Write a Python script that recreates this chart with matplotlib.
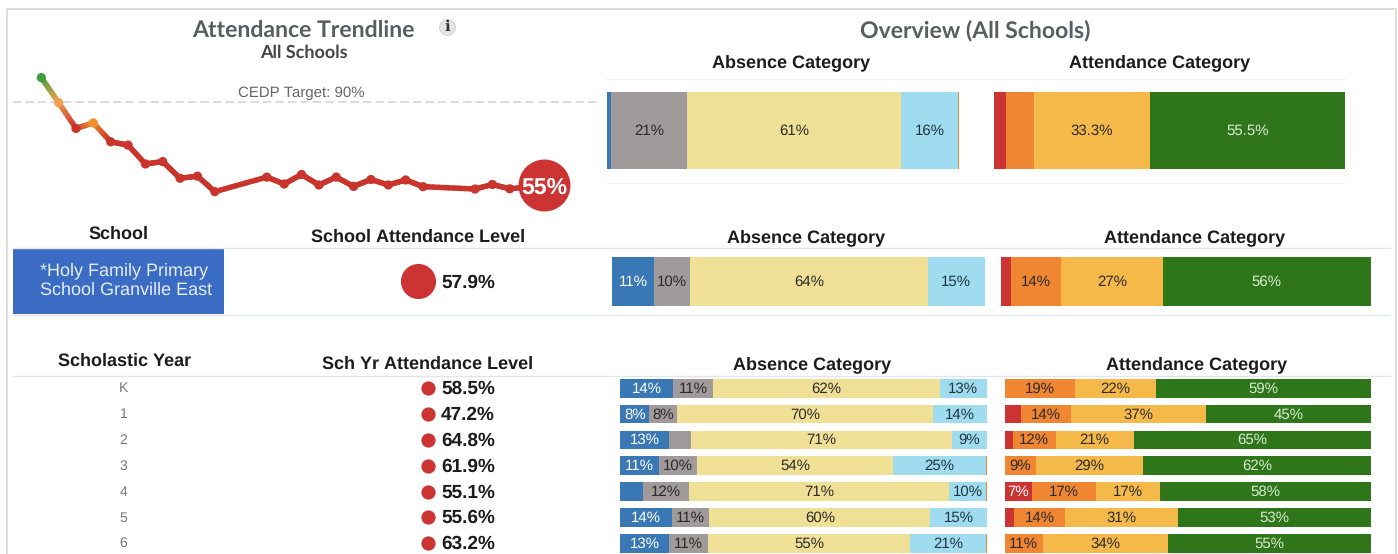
import numpy as np
import matplotlib
matplotlib.use("Agg")
import matplotlib.pyplot as plt
from matplotlib.collections import LineCollection
from matplotlib.colors import to_rgb

W, H = 1398, 554
plt.rcParams['font.family'] = ['Liberation Sans', 'DejaVu Sans']
plt.rcParams['text.hinting'] = 'no_hinting'
plt.rcParams['text.hinting_factor'] = 1

# ---- data ----
weeks = [0,1,2,3,4,5,6,7,8,9,10,13,14,15,16,17,18,19,20,21,22,25,26,27,29]
trend = [100.1,89.6,78.8,81.1,73.2,71.8,63.9,64.9,57.9,58.8,52.3,58.4,55.5,59.5,55.1,58.4,54.5,57.4,55.1,57.2,54.4,53.4,55.3,53.5,55.0]
trend_colors = ['#3f9c3a','#f0a050','#c9342c','#f0902e'] + ['#c9342c'] * 21
target = 90

absence_cols = ['#3a78b5','#a09a9a','#efe096','#a0dcef','#f08632']
absence_text = ['white','#2a2a2a','#2a2a2a','#1f3440','#2a2a2a']
attend_cols = ['#cc3333','#f08632','#f5b94a','#2f7519']
attend_text = ['white','#2a2a2a','#2a2a2a','#d9ecd2']

ov_absence = [[1.3,21.4,61.0,16.1,0.2]]
ov_absence_lab = [['', '21%','61%','16%','']]
ov_attend = [[3.2,8.0,33.3,55.5]]
ov_attend_lab = [['','','33.3%','55.5%']]

sc_absence = [[11.2,9.7,63.8,15.3,0]]
sc_absence_lab = [['11%','10%','64%','15%','']]
sc_attend = [[2.6,13.5,27.5,56.4]]
sc_attend_lab = [['','14%','27%','56%']]
school_name = "*Holy Family Primary\nSchool Granville East"
school_level = 57.9

years = ['K','1','2','3','4','5','6']
yr_levels = [58.5,47.2,64.8,61.9,55.1,55.6,63.2]
yr_absence = [[14.4,11.0,61.8,12.8,0],[7.9,7.6,69.7,14.8,0],[13.3,6.1,71.0,9.6,0],[10.6,10.4,53.3,25.5,0.2],
              [6.1,12.5,71.1,10.2,0.1],[14.0,10.3,60.3,15.4,0],[13.3,10.7,55.0,20.8,0.2]]
yr_absence_lab = [['14%','11%','62%','13%',''],['8%','8%','70%','14%',''],['13%','','71%','9%',''],['11%','10%','54%','25%',''],
                  ['','12%','71%','10%',''],['14%','11%','60%','15%',''],['13%','11%','55%','21%','']]
yr_attend = [[0,19.2,22.0,58.8],[4.4,13.6,36.9,45.1],[2.2,11.7,21.3,64.8],[0,8.6,29.2,62.2],
             [7.6,17.4,17.4,57.6],[2.5,14.0,30.8,52.7],[0,10.4,34.2,55.4]]
yr_attend_lab = [['','19%','22%','59%'],['','14%','37%','45%'],['','12%','21%','65%'],['','9%','29%','62%'],
                 ['7%','17%','17%','58%'],['','14%','31%','53%'],['','11%','34%','55%']]

# ---- helpers ----
fig = plt.figure(figsize=(W/100, H/100), dpi=100, facecolor='white')

def axpx(x0, y0, x1, y1):
    a = fig.add_axes([x0/W, 1-y1/H, (x1-x0)/W, (y1-y0)/H])
    a.patch.set_alpha(0)
    a.axis('off')
    return a

def stacked(a, rows, labels, cols, tcols, height, fs=10.6):
    for i, (vals, labs) in enumerate(zip(rows, labels)):
        left = 0
        for v, l, c, t in zip(vals, labs, cols, tcols):
            if v > 0:
                a.barh(i, v, left=left, height=height, color=c, linewidth=0)
                if l:
                    a.annotate(l, (left+v/2, i), xytext=(0, 0.7), textcoords='offset points',
                               ha='center', va='center_baseline', fontsize=fs, color=t)
            left += v
    a.set_xlim(0, 100)

# backdrop in pixel coordinates
bg = axpx(0, 0, W, H)
bg.set_xlim(0, W); bg.set_ylim(H, 0)
bg.plot([7, 7, 1396, 1396], [H, 9, 9, H], color='#d8d8d2', lw=1.2)
for y, x0, x1, c in [(79,606,1345,'#f3f3f3'),(183,606,1345,'#f3f3f3'),(248,13,1390,'#e2e6ea'),
                     (315,13,1390,'#e2e6ea'),(376,13,1390,'#e2e6ea')]:
    bg.plot([x0, x1], [y, y], color=c, lw=1)

bg.add_patch(plt.Rectangle((13, 249), 211, 65, color='#3b6cc4', lw=0))
bg.text(39.5, 280.5, school_name, color='#e6edfb', fontsize=13.2, ha='left', va='center', linespacing=1.2)

title = dict(family=['Lato', 'DejaVu Sans'], color='#5a5c60', ha='center', va='center', weight='bold')
bg.text(303.5, 30.5, "Attendance Trendline", fontsize=16.85, **title)
bg.text(304, 52.5, "All Schools", fontsize=13.2, **{**title, 'color': '#444444'})
bg.text(975.5, 30.5, "Overview (All Schools)", fontsize=16.85, **title)
bg.scatter([447], [26.5], s=130, color='#e6e6e6', edgecolor='#cccccc', linewidth=0.6, zorder=3)
bg.text(447, 26.5, "i", fontsize=11, weight='bold', color='#333333', ha='center', va='center',
        family=['DejaVu Serif'], zorder=4)

hdr = dict(weight='bold', color='#1c1c1c', ha='center', va='center', fontsize=13.3)
for x, y, s in [(118.5,234.5,"School"),(418,237,"School Attendance Level"),
                (124.5,361.5,"Scholastic Year"),(427.5,364,"Sch Yr Attendance Level"),
                (791,62.5,"Absence Category"),(1160,62.5,"Attendance Category"),
                (806.5,237.5,"Absence Category"),(1195,237.5,"Attendance Category"),
                (812,364.5,"Absence Category"),(1196.5,364.5,"Attendance Category")]:
    bg.text(x, y, s, **hdr)

# school level
bg.scatter([418], [280.7], s=640, color='#cc3333', linewidth=0)
bg.text(441, 280.5, f"{school_level}%", fontsize=13.6, weight='bold', color='#1c1c1c', va='center_baseline')

# trendline: x0=41.3 px at week 0, 17.35 px per week; 90 at y=101.7, 2.386 px per point
ax = axpx(13, 60, 597, 215)
ax.set_xlim((13-41.3)/17.35, (597-41.3)/17.35)
ax.set_ylim(target-(215-101.7)/2.386, target+(101.7-60)/2.386)
ax.axhline(target, color='#d6d6d6', lw=1.2, ls=(0, (5, 2.5)), zorder=1)
ax.text(15, target+4.1, f"CEDP Target: {target}%", color='#666666', fontsize=10.7, ha='center', va='center_baseline')
segs, cs = [], []
for i in range(len(weeks)-1):
    c0, c1 = np.array(to_rgb(trend_colors[i])), np.array(to_rgb(trend_colors[i+1]))
    for t0 in np.arange(0, 1, 0.1):
        t1 = t0 + 0.1
        segs.append([(weeks[i]+(weeks[i+1]-weeks[i])*t0, trend[i]+(trend[i+1]-trend[i])*t0),
                     (weeks[i]+(weeks[i+1]-weeks[i])*t1, trend[i]+(trend[i+1]-trend[i])*t1)])
        cs.append(c0+(c1-c0)*(t0+0.05))
ax.add_collection(LineCollection(segs, colors=cs, linewidths=3.9, capstyle='round', zorder=2))
ax.scatter(weeks[:-1], trend[:-1], s=44, c=trend_colors[:-1], linewidth=0, zorder=3)
ax.scatter(weeks[-1:], trend[-1:], s=1400, c='#cc3333', linewidth=0, zorder=4, clip_on=False)
ax.text(weeks[-1], trend[-1], f"{trend[-1]:.0f}%", color='white', fontsize=16.5, weight='bold',
        ha='center', va='center_baseline', zorder=5)

# overview bars
a = axpx(606.6, 92, 958.8, 169); stacked(a, ov_absence, ov_absence_lab, absence_cols, absence_text, 1.0); a.set_ylim(-.5, .5)
a = axpx(994.4, 92, 1345, 169); stacked(a, ov_attend, ov_attend_lab, attend_cols, attend_text, 1.0); a.set_ylim(-.5, .5)
# school bars
a = axpx(612.2, 257, 984.7, 305.7); stacked(a, sc_absence, sc_absence_lab, absence_cols, absence_text, 1.0); a.set_ylim(-.5, .5)
a = axpx(1001.5, 257, 1371, 305.7); stacked(a, sc_attend, sc_attend_lab, attend_cols, attend_text, 1.0); a.set_ylim(-.5, .5)

# year rows: first row centre at y=388.2, 25.83 px pitch
ylim = ((554-388.2)/25.83, (377-388.2)/25.83)
bar_h = 18.7/25.83
a = axpx(620.4, 377, 986.8, 554); stacked(a, yr_absence, yr_absence_lab, absence_cols, absence_text, bar_h); a.set_ylim(*ylim)
a = axpx(1004.6, 377, 1371, 554); stacked(a, yr_attend, yr_attend_lab, attend_cols, attend_text, bar_h); a.set_ylim(*ylim)

a = axpx(0, 377, 600, 554)
a.set_xlim(0, 600); a.set_ylim(*ylim)
rows = np.arange(len(years))
a.scatter([428]*len(rows), rows, s=105, color='#cc3333', linewidth=0)
for i, (yr, lv) in enumerate(zip(years, yr_levels)):
    a.annotate(yr, (123.5, i), xytext=(0, 0.7), textcoords='offset points', color='#777777', fontsize=10,
               ha='center', va='center_baseline')
    a.annotate(f"{lv}%", (441, i), xytext=(0, 0.7), textcoords='offset points', fontsize=13.6, weight='bold',
               color='#1c1c1c', va='center_baseline')

fig.savefig('out.png', dpi=100)
